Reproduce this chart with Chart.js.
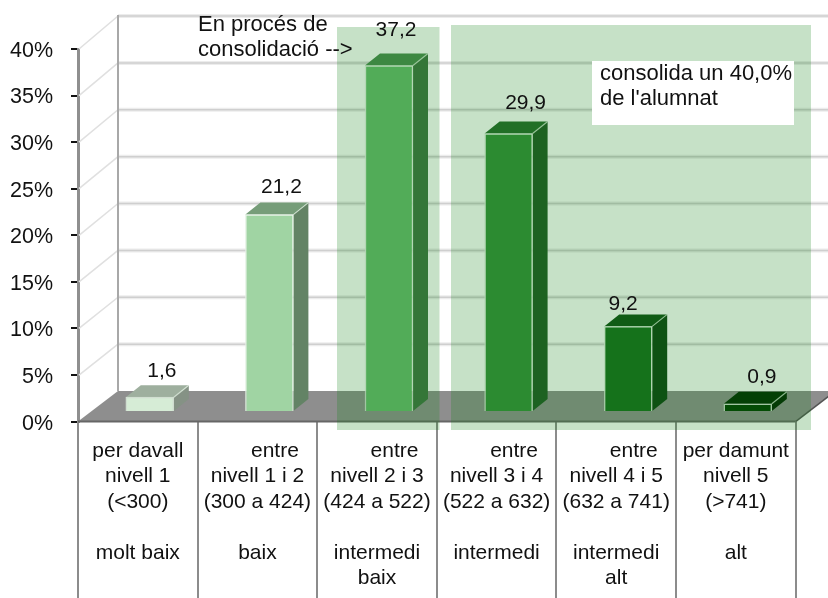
<!DOCTYPE html>
<html>
<head>
<meta charset="utf-8">
<style>html,body{margin:0;padding:0;background:#fff}canvas{display:block}</style>
<script src="https://cdn.jsdelivr.net/npm/chart.js@4/dist/chart.umd.min.js"></script>
</head>
<body>
<div style="width:828px;height:598px"><canvas id="c" width="828" height="598"></canvas></div>
<script>
const categories = [
  ['per davall','nivell 1','(<300)','','molt baix',''],
  ['      entre','nivell 1 i 2','(300 a 424)','','baix',''],
  ['      entre','nivell 2 i 3','(424 a 522)','','intermedi','baix'],
  ['      entre','nivell 3 i 4','(522 a 632)','','intermedi',''],
  ['      entre','nivell 4 i 5','(632 a 741)','','intermedi','alt'],
  ['per damunt','nivell 5','(>741)','','alt','']
];
const values = [1.6, 21.2, 37.2, 29.9, 9.2, 0.9];
const barColors = ['#d6ecd6','#a0d4a3','#67ba6d','#358f3b','#176e1e','#003c00'];
const labelNudgeX = [12, 12, 7, 17, -5, 14];
const labelNudgeY = [3, 2, -6, -1, 7, 2];
const noteLeft = ['En procés de','consolidació -->'];
const noteRight = ['consolida un 40,0%',"de l'alumnat"];

const FAMILY = '"Liberation Sans", Arial, sans-serif';
const DX = 40, SHIFT_X = 12, SHIFT_Y = 9.5, BAR_DX = 15, BAR_DY = 12;

function shade(hex, k) {
  const n = parseInt(hex.slice(1), 16);
  return `rgb(${Math.round((n >> 16) * k)},${Math.round(((n >> 8) & 255) * k)},${Math.round((n & 255) * k)})`;
}
function poly(ctx, pts, fill) {
  ctx.beginPath();
  pts.forEach((p, i) => i ? ctx.lineTo(p[0], p[1]) : ctx.moveTo(p[0], p[1]));
  ctx.closePath();
  ctx.fillStyle = fill;
  ctx.fill();
}
function backY(y, v) { return y - 30.6 - v / 40 * 2.4; }

const scene3d = {
  id: 'scene3d',
  beforeDraw(chart) {
    // y labels sit a little below their ticks
    if (!chart.$nudged) {
      chart.scales.y.getLabelItems().forEach(it => { it.options.translation[1] += 2; });
      chart.$nudged = true;
    }
  },
  beforeDatasetsDraw(chart) {
    const { ctx, scales: { x, y }, chartArea: a } = chart;
    const W = chart.width;
    ctx.save();
    for (let v = 5; v <= 40; v += 5) {
      const fy = y.getPixelForValue(v), by = backY(fy, v);
      ctx.strokeStyle = '#ececec'; ctx.lineWidth = 4;
      ctx.beginPath(); ctx.moveTo(a.left + DX, by); ctx.lineTo(W, by); ctx.stroke();
      ctx.strokeStyle = '#cfcfcf'; ctx.lineWidth = 1.5;
      ctx.beginPath(); ctx.moveTo(a.left + DX, by); ctx.lineTo(W, by); ctx.stroke();
      ctx.strokeStyle = '#e0e0e0'; ctx.lineWidth = 1.6;
      ctx.beginPath(); ctx.moveTo(a.left + 1, fy); ctx.lineTo(a.left + DX, by); ctx.stroke();
    }
    const by0 = backY(y.getPixelForValue(0), 0), by40 = backY(y.getPixelForValue(40), 40);
    ctx.strokeStyle = '#a8a8a8'; ctx.lineWidth = 2;
    ctx.beginPath(); ctx.moveTo(a.left + DX, by40 - 1); ctx.lineTo(a.left + DX, by0); ctx.stroke();
    const fy0 = y.getPixelForValue(0);
    poly(ctx, [[a.left, fy0], [a.left + DX, by0], [a.right + DX, by0], [a.right, fy0]], '#8e8e8e');
    ctx.strokeStyle = '#666'; ctx.lineWidth = 2;
    ctx.beginPath(); ctx.moveTo(a.left, fy0); ctx.lineTo(a.right, fy0); ctx.stroke();
    ctx.strokeStyle = '#555'; ctx.lineWidth = 1.5;
    ctx.beginPath(); ctx.moveTo(a.right, fy0); ctx.lineTo(a.right + DX, by0); ctx.stroke();
    ctx.restore();

    ctx.save();
    ctx.translate(SHIFT_X, -SHIFT_Y);
    chart.getDatasetMeta(0).data.forEach((b, i) => {
      const l = b.x - b.width / 2, r = b.x + b.width / 2, t = b.y, base = b.base;
      const c = barColors[i];
      poly(ctx, [[r, t], [r + BAR_DX, t - BAR_DY], [r + BAR_DX, base - BAR_DY], [r, base]], shade(c, 0.62));
      poly(ctx, [[l, t], [l + BAR_DX, t - BAR_DY], [r + BAR_DX, t - BAR_DY], [r, t]], shade(c, 0.74));
    });
  },
  afterDatasetsDraw(chart) {
    const { ctx } = chart;
    const meta = chart.getDatasetMeta(0);
    ctx.strokeStyle = 'rgba(225,240,225,0.75)'; ctx.lineWidth = 1.2;
    meta.data.forEach(b => {
      const r = b.x + b.width / 2;
      ctx.beginPath(); ctx.moveTo(r, b.y); ctx.lineTo(r + BAR_DX, b.y - BAR_DY); ctx.stroke();
    });
    ctx.restore();

    ctx.save();
    ctx.fillStyle = 'rgba(17,130,20,0.24)';
    ctx.fillRect(337, 27, 102.5, 403);
    ctx.fillRect(451, 25, 360, 405);
    ctx.fillStyle = '#fff';
    ctx.fillRect(592, 61, 202, 64);

    ctx.font = '21px ' + FAMILY;
    ctx.fillStyle = '#111';
    ctx.textBaseline = 'middle';
    ctx.textAlign = 'center';
    meta.data.forEach((b, i) => {
      ctx.fillText(values[i].toFixed(1).replace('.', ','), b.x + SHIFT_X + labelNudgeX[i], b.y - SHIFT_Y - 29 + labelNudgeY[i]);
    });
    ctx.font = '22px ' + FAMILY;
    ctx.textAlign = 'left';
    noteLeft.forEach((t, i) => ctx.fillText(t, 198, 25 + i * 25));
    noteRight.forEach((t, i) => ctx.fillText(t, 600, 74 + i * 24.5));
    ctx.restore();
  }
};

new Chart(document.getElementById('c'), {
  type: 'bar',
  data: {
    labels: categories,
    datasets: [{
      data: values,
      backgroundColor: barColors,
      borderColor: 'rgba(225,240,225,0.8)',
      borderWidth: 1.5,
      barThickness: 48,
      clip: false
    }]
  },
  plugins: [scene3d],
  options: {
    responsive: false,
    animation: false,
    layout: { padding: { left: 0, right: 32.4, top: 49, bottom: 0 } },
    plugins: { legend: { display: false }, tooltip: { enabled: false } },
    scales: {
      x: {
        offset: true,
        afterFit(s) { s.height = 176.4; },
        border: { display: false },
        grid: { offset: true, drawOnChartArea: false, drawTicks: true, tickLength: 177, color: '#8c8c8c', lineWidth: 2 },
        ticks: {
          autoSkip: false, maxRotation: 0, minRotation: 0, padding: -160.5,
          color: '#111', font: { family: FAMILY, size: 21, lineHeight: 1.214 }
        }
      },
      y: {
        min: 0, max: 40,
        afterFit(s) { s.width = 78; },
        border: { color: '#8f8f8f', width: 3 },
        grid: { drawOnChartArea: false, drawTicks: true, tickLength: 7, color: '#111', lineWidth: 2 },
        ticks: {
          stepSize: 5, padding: 18, color: '#111',
          font: { family: FAMILY, size: 21.5 },
          callback: v => v + '%'
        }
      }
    }
  }
});
</script>
</body>
</html>
